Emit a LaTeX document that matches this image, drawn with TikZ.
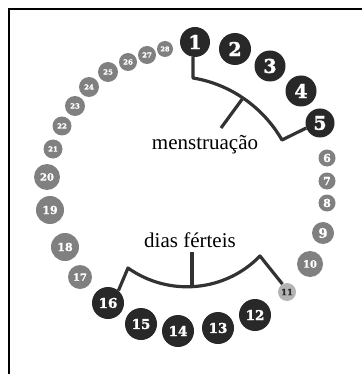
\documentclass[tikz,border=0pt]{standalone}
\usepackage{fontspec}
\setmainfont{Liberation Serif}
\newfontfamily\numfont[BoldFeatures={FakeBold=1.5}]{DejaVu Serif}
\definecolor{darkc}{RGB}{40,40,40}
\definecolor{grayc}{RGB}{128,128,128}
\definecolor{fadec}{RGB}{180,180,180}
\definecolor{brc}{RGB}{50,50,50}
\begin{document}
\begin{tikzpicture}[x=1pt,y=-1pt,
  dk/.style={circle,fill=darkc,text=white,inner sep=0pt,font=\numfont\bfseries\fontsize{19}{19}\selectfont},
  dk2/.style={dk,font=\numfont\bfseries\fontsize{13.5}{13.5}\selectfont},
  gr/.style={circle,fill=grayc,text=white,inner sep=0pt,font=\numfont\bfseries\fontsize{10}{10}\selectfont},
  grs/.style={gr,font=\numfont\bfseries\fontsize{7}{7}\selectfont},
  br/.style={draw=brc,line width=3.2pt,line join=round},
  lbl/.style={font=\fontsize{21}{21}\selectfont,inner sep=0pt}]
\useasboundingbox (0,0) rectangle (362,374);
\draw[line width=2pt] (9,374) -- (9,9) -- (362,9);
% dark days
\node[dk,minimum size=30pt] (c1) at (195,42) {1};
\node[dk,minimum size=32pt] (c2) at (235,49) {2};
\node[dk,minimum size=31pt] (c3) at (270,66) {3};
\node[dk,minimum size=31pt] (c4) at (301,91) {4};
\node[dk,minimum size=29pt] (c5) at (320,123) {5};
\node[gr,minimum size=17pt,font=\numfont\bfseries\fontsize{11}{11}\selectfont] (c6) at (327,158) {6};
\node[gr,minimum size=17pt,font=\numfont\bfseries\fontsize{11}{11}\selectfont] (c7) at (327,181) {7};
\node[gr,minimum size=17pt,font=\numfont\bfseries\fontsize{11}{11}\selectfont] (c8) at (327,203) {8};
\node[gr,minimum size=22pt,font=\numfont\bfseries\fontsize{13}{13}\selectfont] (c9) at (323,233) {9};
\node[gr,minimum size=26pt] (c10) at (310,264) {10};
\node[circle,fill=fadec,text=darkc,inner sep=0pt,minimum size=18pt,font=\numfont\bfseries\fontsize{8.5}{8.5}\selectfont] (c11) at (287,292) {11};
\node[dk2,minimum size=32pt] (c12) at (255,315) {12};
\node[dk2,minimum size=32pt] (c13) at (218,328) {13};
\node[dk2,minimum size=32pt] (c14) at (178,331) {14};
\node[dk2,minimum size=32pt] (c15) at (141,324) {15};
\node[dk2,minimum size=32pt] (c16) at (108,303) {16};
\node[gr,minimum size=24pt] (c17) at (80,277) {17};
\node[gr,minimum size=28pt,font=\numfont\bfseries\fontsize{11}{11}\selectfont] (c18) at (65,247) {18};
\node[gr,minimum size=28pt,font=\numfont\bfseries\fontsize{11}{11}\selectfont] (c19) at (50,210) {19};
\node[gr,minimum size=26pt] (c20) at (47,177) {20};
\node[grs,minimum size=19pt] (c21) at (53,149) {21};
\node[grs,minimum size=19pt] (c22) at (62,126) {22};
\node[grs,minimum size=20pt] (c23) at (75,106) {23};
\node[grs,minimum size=20pt] (c24) at (89,87) {24};
\node[grs,minimum size=20pt] (c25) at (108,72) {25};
\node[grs,minimum size=18pt] (c26) at (128,62) {26};
\node[grs,minimum size=18pt] (c27) at (147,55) {27};
\node[grs,minimum size=16pt,font=\numfont\bfseries\fontsize{6.5}{6.5}\selectfont] (c28) at (165,49) {28};
% labels
\node[lbl] (men) at (205,145) {menstruação};
\node[lbl] (fer) at (190,240) {dias férteis};
% bracket menstruation
\coordinate (m1) at (193,78);
\coordinate (m2) at (282,140);
\coordinate (t1a) at (243,98);
\coordinate (t1b) at (221,128);
\draw[br] (c1.south -| m1) -- (m1) .. controls (230,84) and (263,107) .. (m2) -- (c5.200);
\draw[br] (t1a) -- (t1b);
% bracket fertile days
\coordinate (p1) at (128,268);
\coordinate (p2) at (260,256);
\coordinate (t2a) at (192,287);
\coordinate (t2b) at (192,252);
\draw[br] (c16.50) -- (p1) .. controls (169,297) and (225,292) .. (p2) -- (c11.120);
\draw[br] (t2a) -- (t2b);
\end{tikzpicture}
\end{document}
